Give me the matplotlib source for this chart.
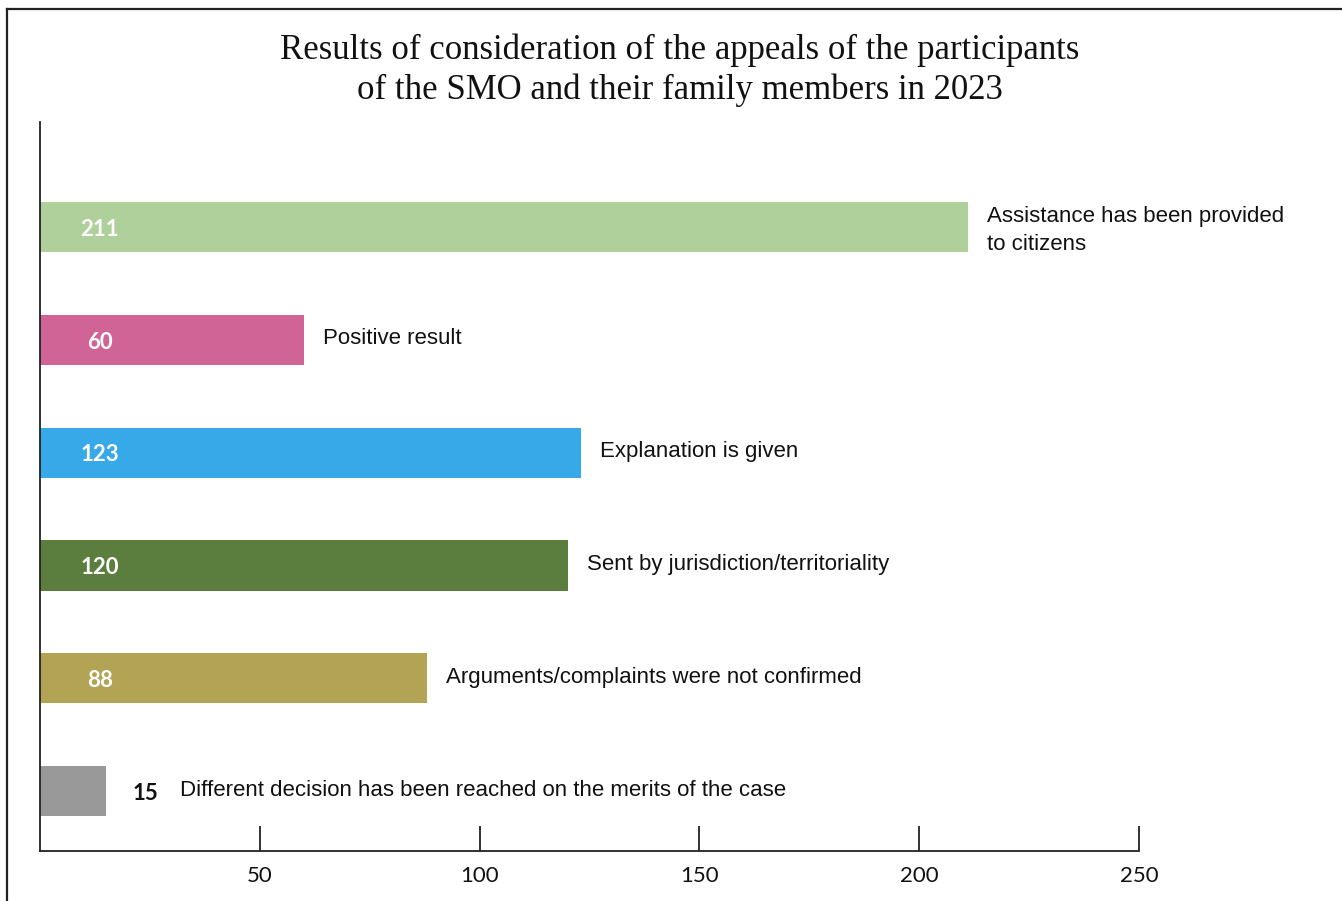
import matplotlib
matplotlib.use("Agg")
import matplotlib.pyplot as plt
from matplotlib.lines import Line2D

categories = [
    "Assistance has been provided\nto citizens",
    "Positive result",
    "Explanation is given",
    "Sent by jurisdiction/territoriality",
    "Arguments/complaints were not confirmed",
    "Different decision has been reached on the merits of the case",
]
values = [211, 60, 123, 120, 88, 15]
colors = ["#b0d09b", "#d06496", "#37a8e8", "#5b7e3e", "#b3a355", "#999999"]
xticks = [50, 100, 150, 200, 250]
title = ("Results of consideration of the appeals of the participants\n"
         "of the SMO and their family members in 2023")

W, H = 1342, 901
fig = plt.figure(figsize=(W / 100, H / 100), dpi=100)
ax = fig.add_axes([40 / W, 1 - 851 / H, (1139 - 40) / W, (851 - 122) / H])

ypos = list(range(len(values)))
ax.barh(ypos, values, height=0.445, color=colors)
ax.set_xlim(0, 250)
ax.set_ylim(5.53, -0.93)

ax.spines["top"].set_visible(False)
ax.spines["right"].set_visible(False)
for s in ("left", "bottom"):
    ax.spines[s].set_linewidth(1.3)
    ax.spines[s].set_color("#222222")
ax.set_yticks([])
ax.set_xticks(xticks)
ax.set_xticklabels([str(t) for t in xticks], fontfamily="Lato", fontsize=16, color="#111111")
ax.tick_params(axis="x", direction="in", length=18, width=1.3, color="#222222", pad=11)

for i, (v, lab) in enumerate(zip(values, categories)):
    if v >= 40:
        ax.text(13.6, i + 0.02, str(v), ha="center", va="center", color="white",
                fontfamily="Lato", fontweight="bold", fontsize=16)
        dy = 0.03 if "\n" in lab else -0.01
        ax.text(v + 4.4, i + dy, lab, ha="left", va="center", color="#111111",
                fontfamily="Liberation Sans", fontsize=16.0, linespacing=1.45)
    else:
        ax.text(v + 6.0, i + 0.02, str(v), ha="left", va="center", color="#111111",
                fontfamily="Lato", fontweight="bold", fontsize=16)
        ax.text(v + 16.8, i - 0.01, lab, ha="left", va="center", color="#111111",
                fontfamily="Liberation Sans", fontsize=16.0)

fig.text(680 / W, 1 - 70 / H, title, ha="center", va="center",
         fontfamily="Liberation Serif", fontsize=25, linespacing=1.25, color="#111111")

# figure frame (top and left edges visible)
fig.add_artist(Line2D([7 / W, 1.0], [1 - 9 / H, 1 - 9 / H], transform=fig.transFigure,
                      color="#222222", linewidth=1.6))
fig.add_artist(Line2D([7 / W, 7 / W], [0, 1 - 9 / H], transform=fig.transFigure,
                      color="#222222", linewidth=1.6))

fig.savefig("out.png", dpi=100)
